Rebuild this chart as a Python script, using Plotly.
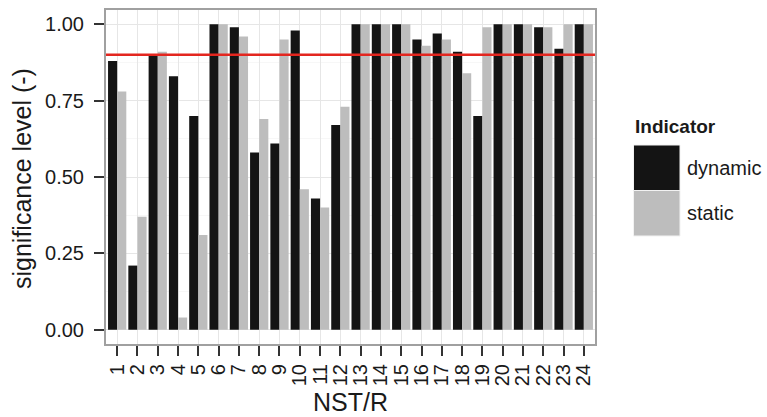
import plotly.graph_objects as go

# Significance level per NST/R case for the two indicators
cases = [str(i) for i in range(1, 25)]
dynamic = [0.88, 0.21, 0.90, 0.83, 0.70, 1.00, 0.99, 0.58, 0.61, 0.98, 0.43, 0.67,
           1.00, 1.00, 1.00, 0.95, 0.97, 0.91, 0.70, 1.00, 1.00, 0.99, 0.92, 1.00]
static = [0.78, 0.37, 0.91, 0.04, 0.31, 1.00, 0.96, 0.69, 0.95, 0.46, 0.40, 0.73,
          1.00, 1.00, 1.00, 0.93, 0.95, 0.84, 0.99, 1.00, 1.00, 0.99, 1.00, 1.00]
threshold = 0.90
y_ticks = [0.0, 0.25, 0.5, 0.75, 1.0]
y_ticklabels = ["0.00", "0.25", "0.50", "0.75", "1.00"]

series_names = ["dynamic", "static"]
series_colors = ["#141414", "#bdbdbd"]

W, H = 767, 417
L, R, T, B = 105, 171, 9, 72
PW, PH = W - L - R, H - T - B


def px_x(px):
    return (px - L) / PW


def px_y(py):
    return (H - B - py) / PH


FONT = "Liberation Sans, Arial, Helvetica, sans-serif"
TEXT = "#1a1a1a"

fig = go.Figure()
for name, vals, col in zip(series_names, [dynamic, static], series_colors):
    fig.add_trace(go.Bar(x=cases, y=vals, name=name, marker=dict(color=col, line=dict(width=0)),
                         showlegend=False))

shapes = [
    # threshold line
    dict(type="line", xref="paper", yref="y", x0=0, x1=1, y0=threshold, y1=threshold,
         line=dict(color="#e3261f", width=2.5), layer="above"),
    # panel border
    dict(type="rect", xref="paper", yref="paper", x0=0, x1=1, y0=0, y1=1,
         line=dict(color="#a0a0a0", width=2), fillcolor="rgba(0,0,0,0)", layer="above"),
]
# legend keys
key_tops = [145, 190.5]
key_h = 45.5
for top, col in zip(key_tops, series_colors):
    shapes.append(dict(type="rect", xref="paper", yref="paper",
                       x0=px_x(633.5), x1=px_x(680), y0=px_y(top + key_h), y1=px_y(top),
                       fillcolor=col, line=dict(color="#f2f2f2", width=1)))

annotations = [
    dict(text="<b>Indicator</b>", xref="paper", yref="paper", x=px_x(633), y=px_y(127),
         xanchor="left", yanchor="middle", showarrow=False, font=dict(size=19, color=TEXT, family=FONT)),
    dict(text="NST/R", xref="paper", yref="paper", x=0.5, y=px_y(401.5),
         xanchor="center", yanchor="middle", showarrow=False, font=dict(size=25, color=TEXT, family=FONT)),
    dict(text="significance level (-)", xref="paper", yref="paper", x=px_x(22), y=px_y(179),
         xanchor="center", yanchor="middle", textangle=-90, showarrow=False,
         font=dict(size=25, color=TEXT, family=FONT)),
]
for top, name in zip(key_tops, series_names):
    annotations.append(dict(text=name, xref="paper", yref="paper", x=px_x(685), y=px_y(top + key_h / 2),
                            xanchor="left", yanchor="middle", showarrow=False,
                            font=dict(size=20, color=TEXT, family=FONT)))

fig.update_layout(
    width=W, height=H,
    margin=dict(l=L, r=R, t=T, b=B, pad=0),
    paper_bgcolor="white", plot_bgcolor="white",
    barmode="group", bargap=0.1, bargroupgap=0,
    font=dict(family=FONT, color=TEXT),
    shapes=shapes, annotations=annotations,
    xaxis=dict(
        type="category", range=[-0.6, 23.6],
        tickmode="array", tickvals=cases, ticktext=cases,
        showgrid=True, gridcolor="#e6e6e6", gridwidth=1,
        ticks="outside", ticklen=10, tickwidth=2, tickcolor="#333333",
        tickangle=-90, tickfont=dict(size=20, color=TEXT, family=FONT),
        showline=False, zeroline=False,
    ),
    yaxis=dict(
        range=[-0.05, 1.05],
        tickvals=y_ticks, ticktext=y_ticklabels,
        showgrid=True, gridcolor="#e6e6e6", gridwidth=1,
        minor=dict(dtick=0.25, tick0=0.125, showgrid=True, gridcolor="#f7f7f7", gridwidth=1),
        ticks="outside", ticklen=10, tickwidth=2, tickcolor="#333333",
        tickfont=dict(size=20, color=TEXT, family=FONT),
        ticklabelstandoff=6,
        showline=False, zeroline=False,
    ),
)

fig.write_html("out.html")
